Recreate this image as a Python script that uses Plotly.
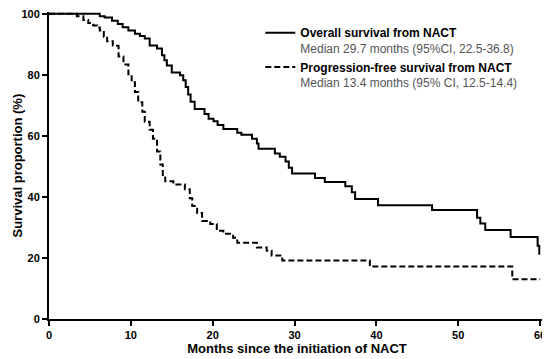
import plotly.graph_objects as go

# Overall survival (months, survival %) - step points
os_time = [0, 6.2, 6.8, 7.7, 8.4, 9.0, 9.7, 10.5, 11.1, 11.7, 12.3, 13.2, 13.8, 14.1, 14.4,
           15.0, 16.0, 16.4, 16.7, 17.0, 17.3, 17.8, 19.0, 19.5, 20.1, 20.6, 21.3, 23.0,
           23.5, 24.8, 25.4, 25.6, 27.6, 28.2, 28.9, 29.3, 29.7, 32.5, 33.7, 36.2, 37.0,
           37.4, 40.2, 46.8, 52.3, 52.7, 53.3, 56.4, 59.7, 59.9, 60.0]
os_surv = [100, 99.2, 98.8, 97.7, 96.7, 95.6, 94.5, 93.5, 92.7, 91.9, 89.6, 88.6, 86.4, 84.8, 83.1,
           80.8, 79.9, 78.2, 76.0, 73.6, 71.2, 68.8, 67.2, 65.6, 64.8, 63.6, 62.3, 61.0,
           60.4, 59.1, 57.5, 55.8, 54.2, 53.2, 51.6, 49.6, 47.7, 46.2, 44.9, 43.5, 41.5,
           39.3, 37.3, 35.7, 33.2, 31.3, 29.2, 26.9, 24.0, 21.4, 21.4]

# Progression-free survival
pfs_time = [0, 3.4, 4.2, 4.8, 5.4, 5.9, 6.2, 6.7, 7.1, 7.8, 8.5, 9.1, 9.7, 10.1, 10.5, 10.9,
            11.4, 11.7, 12.3, 12.7, 13.2, 13.6, 13.9, 14.2, 15.2, 16.6, 17.2, 17.5, 18.1,
            18.7, 19.7, 20.5, 21.3, 22.5, 23.0, 25.4, 26.6, 27.2, 28.5, 39.2, 56.6, 60.0]
pfs_surv = [100, 99.2, 98.0, 97.0, 96.2, 95.5, 94.5, 92.5, 91.0, 89.5, 86.0, 83.4, 80.2, 77.6, 74.4, 71.0,
            67.9, 64.6, 62.0, 59.1, 54.9, 50.6, 46.8, 45.1, 44.1, 42.5, 39.6, 37.0, 34.7,
            32.1, 31.1, 28.9, 27.9, 26.6, 25.0, 23.4, 22.4, 20.8, 19.2, 17.2, 13.0, 13.0]

x_ticks = [0, 10, 20, 30, 40, 50, 60]
y_ticks = [0, 20, 40, 60, 80, 100]

os_name = ("<b>Overall survival from NACT</b><br>"
           "<span style='color:#555555'>Median 29.7 months (95%CI, 22.5-36.8)</span>")
pfs_name = ("<b>Progression-free survival from NACT</b><br>"
            "<span style='color:#555555'>Median 13.4 months (95% CI, 12.5-14.4)</span>")

fig = go.Figure()
fig.add_trace(go.Scatter(x=os_time, y=os_surv, mode="lines", line_shape="hv",
                         line=dict(color="black", width=2), name=os_name,
                         legendgroup="a"))
fig.add_trace(go.Scatter(x=pfs_time, y=pfs_surv, mode="lines", line_shape="hv",
                         line=dict(color="black", width=2, dash="6px,3px"), name=pfs_name,
                         legendgroup="b"))

font_family = "Arial, Liberation Sans, sans-serif"
# page body has an 8px margin, so the figure is sized 8px smaller than the window
fig.update_layout(
    width=542, height=351,
    margin=dict(l=41, r=5, t=4, b=40, autoexpand=False),
    paper_bgcolor="white", plot_bgcolor="white",
    font=dict(family=font_family, color="black", size=11),
    showlegend=True,
    legend=dict(x=0.426, y=0.979, xanchor="left", yanchor="top",
                bgcolor="rgba(0,0,0,0)", valign="top",
                font=dict(size=12, family=font_family, color="black"),
                tracegroupgap=0, traceorder="grouped", itemwidth=30),
    xaxis=dict(range=[0, 60.6], tickvals=x_ticks, ticktext=[f"<b>{v}</b>" for v in x_ticks],
               showgrid=False, zeroline=False, showline=True, linecolor="black", linewidth=2,
               ticks="outside", ticklen=5, tickwidth=2, tickcolor="black",
               tickfont=dict(size=11), automargin=False, ticklabeloverflow="allow",
               title=dict(text="<b>Months since the initiation of NACT</b>",
                          font=dict(size=13), standoff=2)),
    yaxis=dict(range=[0, 100.6], tickvals=y_ticks, ticktext=[f"<b>{v}</b>" for v in y_ticks],
               showgrid=False, zeroline=False, showline=True, linecolor="black", linewidth=2,
               ticks="outside", ticklen=5, tickwidth=2, tickcolor="black",
               tickfont=dict(size=11), automargin=False, ticklabeloverflow="allow"),
    annotations=[dict(text="<b>Survival proportion (%)</b>", textangle=-90,
                      xref="paper", yref="paper", x=0, y=0.5, xanchor="center",
                      yanchor="middle", xshift=-32, yshift=0, showarrow=False,
                      font=dict(size=13, family=font_family, color="black"))],
)

fig.write_html("out.html")
